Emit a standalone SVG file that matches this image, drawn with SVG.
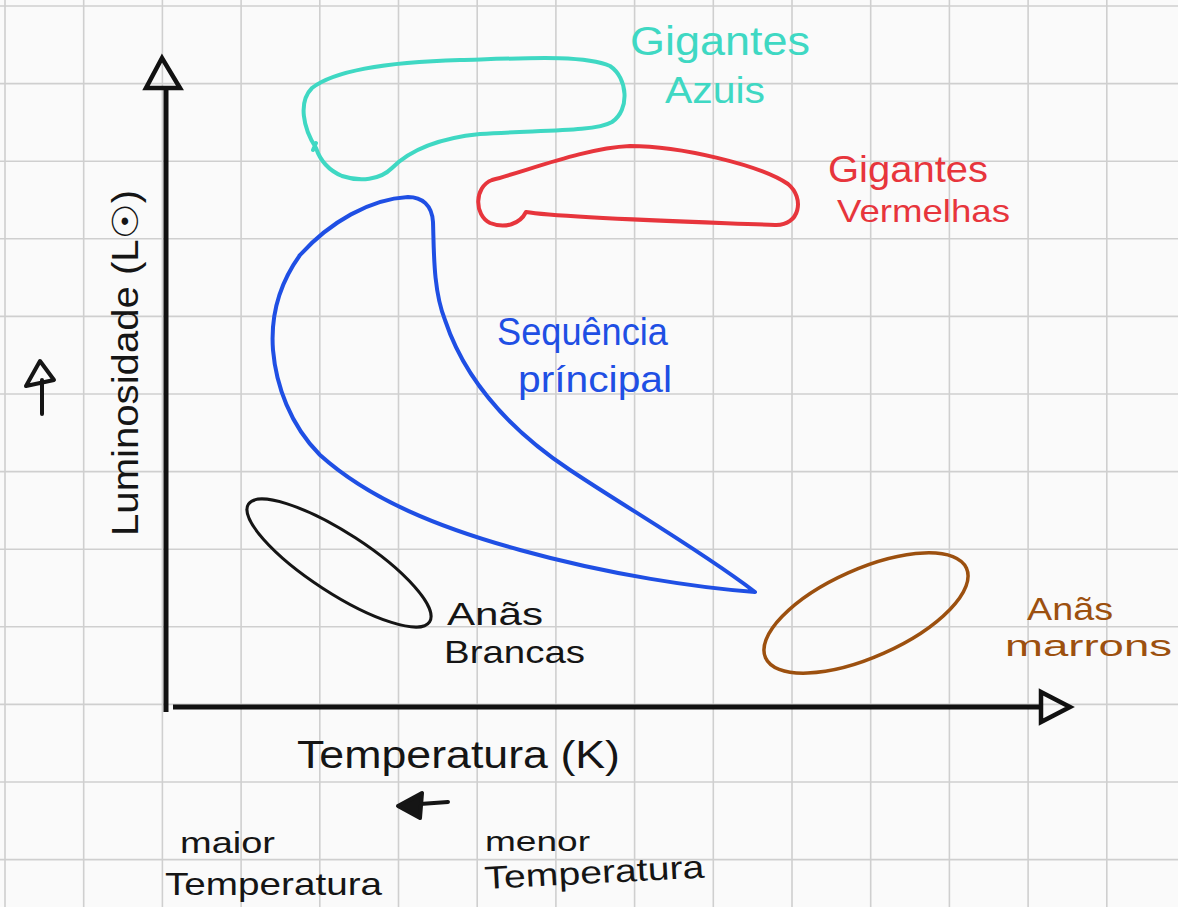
<svg xmlns="http://www.w3.org/2000/svg" width="1178" height="907" viewBox="0 0 1178 907">
<style>
.grid line{stroke:#cfcfcf;stroke-width:1.6}
.ax{stroke:#111;stroke-width:5;fill:none}
.tri{stroke:#111;stroke-width:4.5;fill:none;stroke-linejoin:miter}
.shape{fill:none;stroke-width:4;stroke-linejoin:round;stroke-linecap:round}
text{font-family:"Liberation Sans","DejaVu Sans",sans-serif}
.cy{fill:#3fd8c3}.rd{fill:#e7353c}.bl{fill:#1f4fe4}.bk{fill:#151515}.br{fill:#9c500f}
</style>
<rect width="1178" height="907" fill="#fafafa"/>
<g class="grid" id="grid">
<line x1="5" y1="0" x2="5" y2="907"/><line x1="83.7" y1="0" x2="83.7" y2="907"/><line x1="162.4" y1="0" x2="162.4" y2="907"/><line x1="241.1" y1="0" x2="241.1" y2="907"/><line x1="319.8" y1="0" x2="319.8" y2="907"/><line x1="398.5" y1="0" x2="398.5" y2="907"/><line x1="477.2" y1="0" x2="477.2" y2="907"/><line x1="555.9" y1="0" x2="555.9" y2="907"/><line x1="634.6" y1="0" x2="634.6" y2="907"/><line x1="713.3" y1="0" x2="713.3" y2="907"/><line x1="792" y1="0" x2="792" y2="907"/><line x1="870.7" y1="0" x2="870.7" y2="907"/><line x1="949.4" y1="0" x2="949.4" y2="907"/><line x1="1028.1" y1="0" x2="1028.1" y2="907"/><line x1="1106.8" y1="0" x2="1106.8" y2="907"/>
<line x1="0" y1="6" x2="1178" y2="6"/><line x1="0" y1="83.6" x2="1178" y2="83.6"/><line x1="0" y1="161.2" x2="1178" y2="161.2"/><line x1="0" y1="238.8" x2="1178" y2="238.8"/><line x1="0" y1="316.4" x2="1178" y2="316.4"/><line x1="0" y1="394" x2="1178" y2="394"/><line x1="0" y1="471.6" x2="1178" y2="471.6"/><line x1="0" y1="549.2" x2="1178" y2="549.2"/><line x1="0" y1="626.8" x2="1178" y2="626.8"/><line x1="0" y1="704.4" x2="1178" y2="704.4"/><line x1="0" y1="782" x2="1178" y2="782"/><line x1="0" y1="859.6" x2="1178" y2="859.6"/>
</g>
<g id="axes">
<line class="ax" x1="166" y1="88" x2="166" y2="712"/>
<path class="tri" d="M162,58 L146,88 L180,88 Z"/>
<line class="ax" x1="173" y1="707" x2="1040" y2="707"/>
<path class="tri" d="M1041,692 L1070,707 L1041,722 Z"/>
</g>
<g id="gigantes-azuis">
<path class="shape" stroke="#3fd8c3" d="M316,148 C303,128 298,102 312,88 C335,70 390,62 460,60 C530,58 585,55 610,66 C628,78 630,110 612,122 C595,132 540,130 480,134 C440,138 410,150 392,168 C380,180 360,182 342,176 C328,170 320,160 316,148 Z M313,150 L316,143"/>
<text class="cy" x="630" y="55" font-size="40" textLength="180" lengthAdjust="spacingAndGlyphs">Gigantes</text>
<text class="cy" x="665" y="103" font-size="36" textLength="100" lengthAdjust="spacingAndGlyphs">Azuis</text>
</g>
<g id="gigantes-vermelhas">
<path class="shape" stroke="#e7353c" d="M526,212 C560,218 700,222 775,225 C800,226 805,198 788,184 C760,165 680,146 630,146 C585,148 530,170 492,180 C474,187 474,215 490,223 C505,229 520,224 526,212 Z"/>
<text class="rd" x="828" y="182" font-size="36" textLength="160" lengthAdjust="spacingAndGlyphs">Gigantes</text>
<text class="rd" x="837" y="222" font-size="32" textLength="173" lengthAdjust="spacingAndGlyphs">Vermelhas</text>
</g>
<g id="sequencia-principal">
<path class="shape" stroke="#1f4fe4" d="M408,197 C422,197 432,205 433,222 C434,250 433,290 445,320 C465,380 510,430 570,470 C630,510 700,550 755,592 C700,588 610,575 520,550 C440,528 370,500 320,455 C290,425 276,385 273,350 C270,310 282,280 300,255 C330,222 370,199 408,197 Z"/>
<text class="bl" x="497" y="345" font-size="38" textLength="171" lengthAdjust="spacingAndGlyphs">Sequência</text>
<text class="bl" x="518" y="392" font-size="36" textLength="154" lengthAdjust="spacingAndGlyphs">príncipal</text>
</g>
<g id="anas-brancas">
<ellipse cx="339" cy="563" rx="108" ry="30" transform="rotate(33 339 563)" fill="none" stroke="#151515" stroke-width="3"/>
<text class="bk" x="447" y="625" font-size="32" textLength="96" lengthAdjust="spacingAndGlyphs">Anãs</text>
<text class="bk" x="444" y="663" font-size="32" textLength="141" lengthAdjust="spacingAndGlyphs">Brancas</text>
</g>
<g id="anas-marrons">
<ellipse cx="866" cy="613" rx="110" ry="44" transform="rotate(-24 866 613)" fill="none" stroke="#9c500f" stroke-width="3.5"/>
<text class="br" x="1027" y="620" font-size="32" textLength="86" lengthAdjust="spacingAndGlyphs">Anãs</text>
<text class="br" x="1005" y="656" font-size="30" textLength="167" lengthAdjust="spacingAndGlyphs">marrons</text>
</g>
<g id="labels">
<text class="bk" transform="translate(138 536) rotate(-90)" font-size="36" textLength="346" lengthAdjust="spacingAndGlyphs">Luminosidade (L☉)</text>
<text class="bk" x="297" y="768" font-size="38" textLength="323" lengthAdjust="spacingAndGlyphs">Temperatura (K)</text>
<text class="bk" x="180" y="853" font-size="30" textLength="95" lengthAdjust="spacingAndGlyphs">maior</text>
<text class="bk" x="165" y="895" font-size="32" textLength="217" lengthAdjust="spacingAndGlyphs">Temperatura</text>
<text class="bk" x="485" y="851" font-size="28" textLength="105" lengthAdjust="spacingAndGlyphs">menor</text>
<text class="bk" transform="translate(485 889) rotate(-3)" font-size="32" textLength="220" lengthAdjust="spacingAndGlyphs">Temperatura</text>
</g>
<g id="arrows" stroke="#151515" stroke-width="4" stroke-linecap="round" stroke-linejoin="round">
<path d="M42,414 L42,380 M26,386 L40,361 L54,380 Z" fill="none"/>
<path d="M448,802 L420,804" fill="none"/>
<path d="M398,806 L422,793 L420,818 Z" fill="#151515"/>
</g>
</svg>
